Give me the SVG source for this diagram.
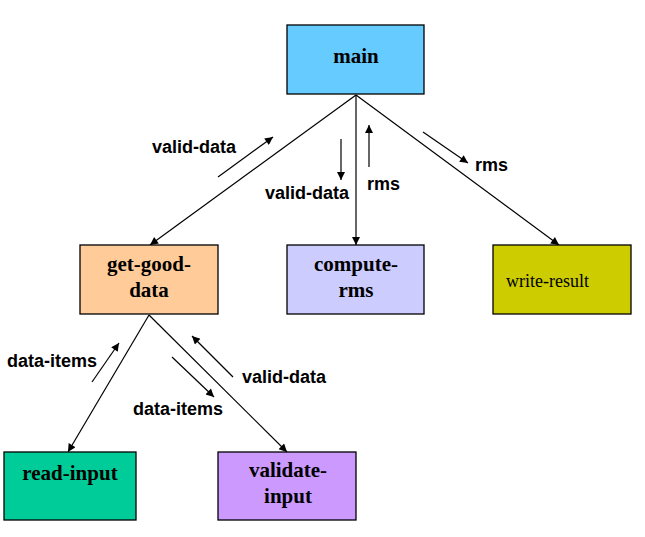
<svg xmlns="http://www.w3.org/2000/svg" width="645" height="537" viewBox="0 0 645 537">
<style>
.box{stroke:#000;stroke-width:1.3}
.nt{font-family:"Liberation Serif","Times New Roman",serif;font-weight:bold;font-size:21px;text-anchor:middle;fill:#000}
.nr{font-family:"Liberation Serif","Times New Roman",serif;font-size:18px;fill:#000}
.lb{font-family:"Liberation Sans",Arial,sans-serif;font-weight:bold;font-size:18px;fill:#000}
.ln{stroke:#000;stroke-width:1.2;fill:none;marker-end:url(#ah)}
</style>
<defs>
<marker id="ah" viewBox="0 0 10 10" refX="10" refY="5" markerWidth="10" markerHeight="8" markerUnits="userSpaceOnUse" orient="auto">
<path d="M0,0 L10,5 L0,10 z" fill="#000"/>
</marker>
</defs>
<rect width="645" height="537" fill="#fff"/>
<g id="connectors">
<line class="ln" x1="356" y1="95" x2="150" y2="245"/>
<line class="ln" x1="356" y1="95" x2="356" y2="245"/>
<line class="ln" x1="356" y1="95" x2="559" y2="245"/>
<line class="ln" x1="149" y1="315" x2="68" y2="452"/>
<line class="ln" x1="149" y1="315" x2="287" y2="452"/>
<line class="ln" x1="218" y1="177" x2="273" y2="137"/>
<line class="ln" x1="341" y1="139" x2="341" y2="180"/>
<line class="ln" x1="369" y1="167" x2="369" y2="125"/>
<line class="ln" x1="423" y1="132" x2="468" y2="163"/>
<line class="ln" x1="92" y1="382" x2="119" y2="343"/>
<line class="ln" x1="172" y1="357" x2="214" y2="397"/>
<line class="ln" x1="233" y1="377" x2="192" y2="336"/>
<text class="lb" x="152" y="153">valid-data</text>
<text class="lb" x="265" y="199">valid-data</text>
<text class="lb" x="367" y="190">rms</text>
<text class="lb" x="475" y="171">rms</text>
<text class="lb" x="7" y="367">data-items</text>
<text class="lb" x="133" y="415">data-items</text>
<text class="lb" x="242" y="383">valid-data</text>
</g>
<g id="main">
<rect class="box" x="287" y="25" width="137" height="69" fill="#66CCFF"/>
<text class="nt" x="356" y="63">main</text>
</g>
<g id="get-good-data">
<rect class="box" x="80" y="245" width="138" height="69" fill="#FFCC99"/>
<text class="nt" x="149" y="271">get-good-</text>
<text class="nt" x="149" y="297">data</text>
</g>
<g id="compute-rms">
<rect class="box" x="287" y="245" width="137" height="69" fill="#CCCCFF"/>
<text class="nt" x="356" y="271">compute-</text>
<text class="nt" x="356" y="297">rms</text>
</g>
<g id="write-result">
<rect class="box" x="493" y="245" width="138" height="69" fill="#CCCC00"/>
<text class="nr" x="506" y="287">write-result</text>
</g>
<g id="read-input">
<rect class="box" x="4" y="452" width="132" height="68" fill="#00CC99"/>
<text class="nt" x="70" y="480">read-input</text>
</g>
<g id="validate-input">
<rect class="box" x="218" y="452" width="138" height="68" fill="#CC99FF"/>
<text class="nt" x="288" y="477">validate-</text>
<text class="nt" x="288" y="503">input</text>
</g>
</svg>
